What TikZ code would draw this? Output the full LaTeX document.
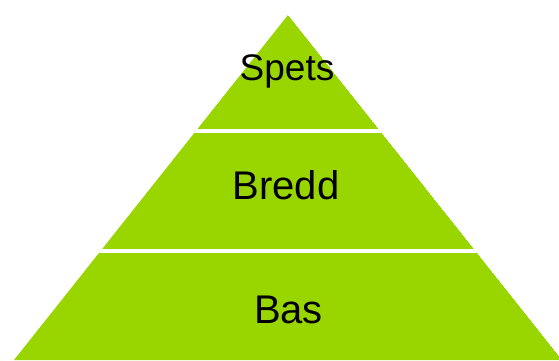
\documentclass[tikz,border=0pt]{standalone}
\usepackage{fontspec}
\setmainfont{Liberation Sans}
\definecolor{layergreen}{RGB}{153,214,0}

\begin{document}
\begin{tikzpicture}[x=1pt,y=-1pt,
    label/.style={anchor=base, font=\fontsize{40}{44}\selectfont},
    gap/.style={draw=white, line width=4pt}]
         \useasboundingbox (0,0) rectangle (559,360);
         \coordinate (top) at (288,15);
         \coordinate (left) at (14,360);
         \coordinate (right) at (562,360);
         \begin{scope}
           \clip (top) -- (left) -- (right) -- cycle;
           \fill[layergreen] (top) -- (left) -- (right) -- cycle;
           \coordinate (G1a) at (0,130.5);
           \coordinate (G1b) at (600,130.5);
           \coordinate (G2a) at (0,251);
           \coordinate (G2b) at (600,251);
           \draw[gap] (G1a) -- (G1b);
           \draw[gap] (G2a) -- (G2b);
         \end{scope}
         \node[label, font=\fontsize{37}{40}\selectfont] (spets) at (287,80) {Spets};
         \node[label] (bredd) at (286,199) {Bredd};
         \node[label] (bas) at (288.5,323) {Bas};
    \end{tikzpicture}
\end{document}
